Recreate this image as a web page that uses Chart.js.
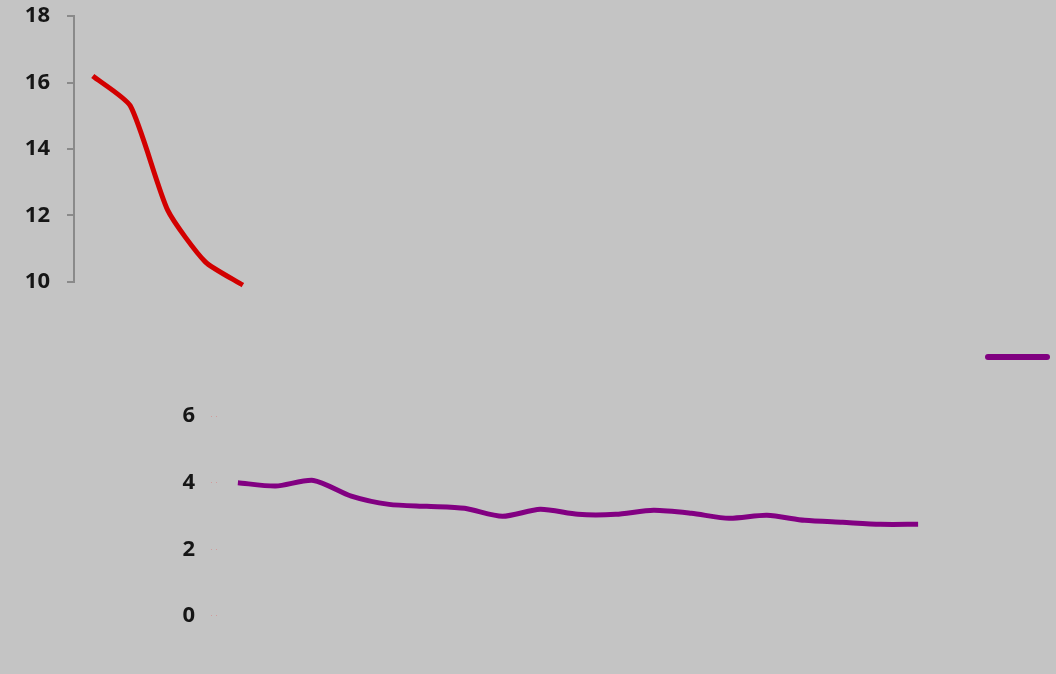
<!DOCTYPE html>
<html>
<head>
<meta charset="utf-8">
<script src="https://cdn.jsdelivr.net/npm/chart.js@4/dist/chart.umd.min.js"></script>
<style>
    html, body { margin: 0; padding: 0; }
    body { width: 1056px; height: 674px; background: #c4c4c4; position: relative; overflow: hidden; }
    .box { position: absolute; left: 0; width: 1056px; }
    #topBox { top: -14px; height: 326px; }
    #bottomBox { top: 387px; height: 258px; }
    #legendLine { position: absolute; left: 985px; top: 354px; width: 65px; height: 6px; background: #800080; border-radius: 3px; }
</style>
</head>
<body>
<div class="box" id="topBox"><canvas id="topChart"></canvas></div>
<div class="box" id="bottomBox"><canvas id="bottomChart"></canvas></div>
<div id="legendLine"></div>
<script>
// categories along the x axis (their labels are unreadable in the picture)
const categories = ['1', '2', '3', '4', '5', '6', '7', '8', '9', '10', '11', '12',
    '13', '14', '15', '16', '17', '18', '19', '20', '21', '22', '23'];

// upper series (red), only the first five points
const redSeries = [16.2, 15.3, 12.15, 10.6, 9.9, null, null, null, null, null, null, null,
    null, null, null, null, null, null, null, null, null, null, null];

// lower series (purple), starts at the fifth category
const purpleSeries = [null, null, null, null, 4.0, 3.9, 4.07, 3.6, 3.35, 3.29, 3.23, 2.99,
    3.2, 3.05, 3.05, 3.17, 3.08, 2.93, 3.02, 2.87, 2.81, 2.75, 2.75];

const topTicks = [10, 12, 14, 16, 18];
const bottomTicks = [0, 2, 4, 6];

const labelFont = { family: 'Open Sans', size: 22, weight: 'bold' };

Chart.defaults.animation = false;
Chart.defaults.responsive = true;
Chart.defaults.maintainAspectRatio = false;

new Chart(document.getElementById('topChart'), {
    type: 'line',
    data: {
        labels: categories,
        datasets: [{
            data: redSeries,
            borderColor: '#d20000',
            borderWidth: 5,
            pointRadius: 0,
            tension: 0.2,
            clip: false
        }]
    },
    options: {
        layout: { padding: { top: 4, right: 119, bottom: 18, left: 0 } },
        plugins: { legend: { display: false }, tooltip: { enabled: false } },
        scales: {
            x: {
                offset: true,
                display: false
            },
            y: {
                min: 10,
                max: 18,
                afterBuildTicks: axis => { axis.ticks = topTicks.map(v => ({ value: v })); },
                afterFit: axis => { axis.width = 74; },
                border: { display: true, color: '#8a8a8a', width: 2 },
                grid: { drawOnChartArea: false, color: '#8a8a8a', tickLength: 7, lineWidth: 2 },
                ticks: { color: '#161616', font: labelFont, padding: 17 }
            }
        }
    }
});

new Chart(document.getElementById('bottomChart'), {
    type: 'line',
    data: {
        labels: categories,
        datasets: [{
            data: purpleSeries,
            borderColor: '#820082',
            borderWidth: 5,
            pointRadius: 0,
            tension: 0.25
        }]
    },
    options: {
        layout: { padding: { top: 8, right: 119, bottom: 15, left: 0 } },
        plugins: { legend: { display: false }, tooltip: { enabled: false } },
        scales: {
            x: {
                offset: true,
                min: 4,
                display: false
            },
            y: {
                min: 0,
                max: 6,
                afterBuildTicks: axis => { axis.ticks = bottomTicks.map(v => ({ value: v })); },
                afterFit: axis => { axis.width = 219; },
                border: { display: false },
                grid: { drawOnChartArea: false, color: 'rgba(215,140,140,0.7)', tickLength: 8, tickBorderDash: [1, 4] },
                ticks: { color: '#161616', font: labelFont, padding: 16 }
            }
        }
    }
});
</script>
</body>
</html>
